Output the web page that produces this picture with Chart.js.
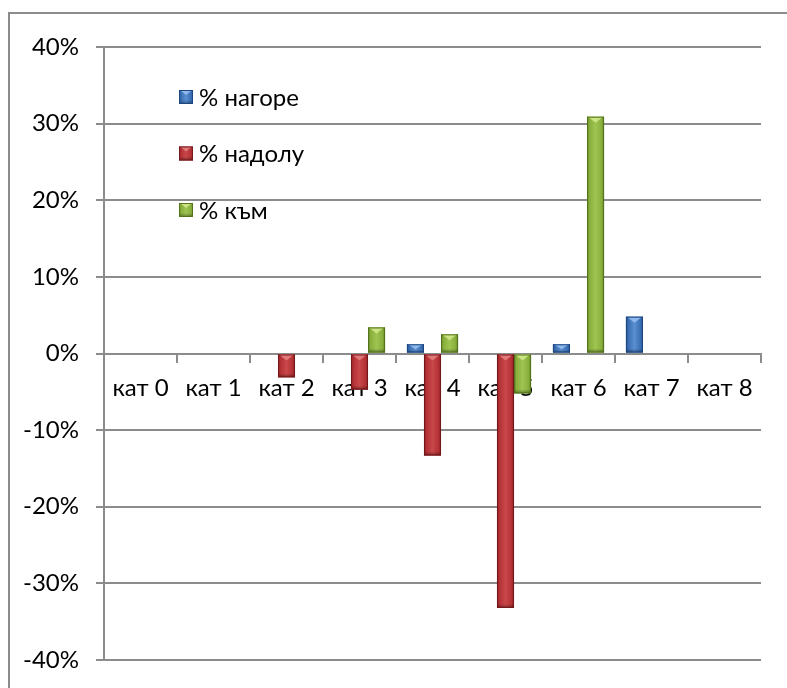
<!DOCTYPE html>
<html>
<head>
<meta charset="utf-8">
<script src="https://cdn.jsdelivr.net/npm/chart.js@4.4.1/dist/chart.umd.min.js"></script>
<style>
  html, body { margin: 0; padding: 0; background: #fff; }
  #wrap { width: 787px; height: 688px; }
</style>
</head>
<body>
<div id="wrap"><canvas id="grafica" width="787" height="688"></canvas></div>
<script>
const categorias = ["кат 0", "кат 1", "кат 2", "кат 3", "кат 4", "кат 5", "кат 6", "кат 7", "кат 8"];
const nagore = [0, 0, 0, 0, 1.2, 0, 1.2, 4.8, 0];
const nadolu = [0, 0, -3.1, -4.7, -13.3, -33.2, 0, 0, 0];
const kam = [0, 0, 0, 3.4, 2.5, -5.2, 30.9, 0, 0];
const etiquetas = ["% нагоре", "% надолу", "% към"];
const yMin = -40, yMax = 40, yPaso = 10;

// base, light, dark, triangle
const tonos = [
    ["#386db3", "#5a8fd0", "#1d4780", "#8fb8ec"],
    ["#b22f33", "#c9484a", "#74181b", "#e07a79"],
    ["#86ad3a", "#a0c452", "#55731d", "#cbe383"]
];

const fuente = { family: "Lato", size: 24 };
const gris = "#8c8c8c";

function pintarBarra(ctx, l, t, r, b, tono) {
    const w = r - l, h = b - t;
    if (h < 0.5) return;
    let g = ctx.createLinearGradient(l, 0, r, 0);
    g.addColorStop(0, tono[2]);
    g.addColorStop(0.12, tono[0]);
    g.addColorStop(0.5, tono[1]);
    g.addColorStop(0.88, tono[0]);
    g.addColorStop(1, tono[2]);
    ctx.fillStyle = g;
    ctx.fillRect(l, t, w, h);
    // bottom shade
    const sh = Math.min(4, h / 3);
    let g2 = ctx.createLinearGradient(0, b - sh, 0, b);
    g2.addColorStop(0, "rgba(0,0,0,0)");
    g2.addColorStop(1, "rgba(0,0,0,0.35)");
    ctx.fillStyle = g2;
    ctx.fillRect(l, b - sh, w, sh);
    // top chevron
    const th = Math.min(w * 0.35, h * 0.6);
    ctx.fillStyle = tono[3];
    ctx.beginPath();
    ctx.moveTo(l + 1, t);
    ctx.lineTo(r - 1, t);
    ctx.lineTo((l + r) / 2, t + th);
    ctx.closePath();
    ctx.fill();
    ctx.strokeStyle = tono[2];
    ctx.lineWidth = 1;
    ctx.strokeRect(l + 0.5, t + 0.5, w - 1, h - 1);
}

const barrasBisel = {
    id: "barrasBisel",
    beforeDraw(chart) {
        const ctx = chart.ctx;
        ctx.save();
        ctx.strokeStyle = gris;
        ctx.lineWidth = 2;
        ctx.beginPath();
        ctx.moveTo(9, 688);
        ctx.lineTo(9, 13);
        ctx.lineTo(787, 13);
        ctx.stroke();
        ctx.restore();
    },
    afterDatasetsDraw(chart) {
        const ctx = chart.ctx;
        ctx.save();
        chart.data.datasets.forEach((ds, i) => {
            const meta = chart.getDatasetMeta(i);
            meta.data.forEach(el => {
                const l = el.x - el.width / 2, r = el.x + el.width / 2;
                const t = Math.min(el.y, el.base), b = Math.max(el.y, el.base);
                pintarBarra(ctx, l, t, r, b, tonos[i]);
            });
        });
        ctx.restore();
    },
    afterDraw(chart) {
        const ctx = chart.ctx;
        ctx.save();
        ctx.font = fuente.size + "px " + fuente.family;
        ctx.textBaseline = "middle";
        const y0 = 97, paso = 56.5;
        chart.data.datasets.forEach((ds, i) => {
            const y = y0 + i * paso;
            pintarBarra(ctx, 179, y - 7, 193, y + 7, tonos[i]);
            ctx.fillStyle = "#000";
            ctx.fillText(ds.label, 199, y + 1);
        });
        ctx.restore();
    }
};

new Chart(document.getElementById("grafica"), {
    type: "bar",
    data: {
        labels: categorias,
        datasets: [
            { label: etiquetas[0], data: nagore, backgroundColor: tonos[0][0] },
            { label: etiquetas[1], data: nadolu, backgroundColor: tonos[1][0] },
            { label: etiquetas[2], data: kam, backgroundColor: tonos[2][0] }
        ]
    },
    options: {
        responsive: false,
        animation: false,
        devicePixelRatio: 1,
        layout: { padding: { top: 47, bottom: 28, right: 26, left: 0 } },
        datasets: { bar: { categoryPercentage: 0.7, barPercentage: 1.0 } },
        plugins: { legend: { display: false }, tooltip: { enabled: false } },
        scales: {
            x: {
                position: { y: 0 },
                grid: { drawOnChartArea: false, drawTicks: true, tickLength: 8, color: gris, lineWidth: 2 },
                border: { color: gris, width: 2 },
                ticks: { color: "#000", font: fuente, padding: 12, maxRotation: 0, autoSkip: false }
            },
            y: {
                min: yMin,
                max: yMax,
                afterFit(scale) {
                    scale.width = 104;
                    scale.paddingTop = 0;
                    scale.paddingBottom = 0;
                },
                grid: { color: gris, lineWidth: 2, tickLength: 8 },
                border: { color: gris, width: 2 },
                ticks: {
                    stepSize: yPaso,
                    color: "#000",
                    font: fuente,
                    padding: 17,
                    callback: v => v + "%"
                }
            }
        }
    },
    plugins: [barrasBisel]
});
</script>
</body>
</html>
